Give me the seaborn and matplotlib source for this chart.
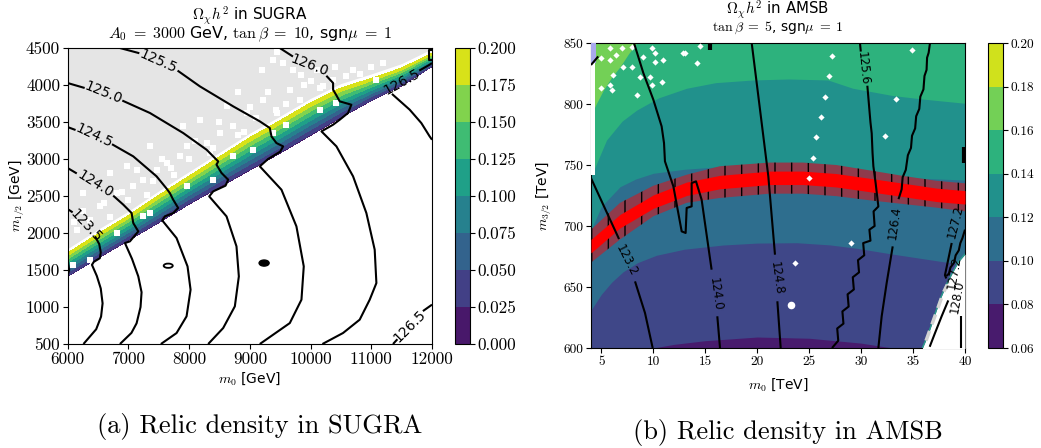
import numpy as np
import matplotlib
matplotlib.use("Agg")
import matplotlib.pyplot as plt
from matplotlib.colors import ListedColormap, BoundaryNorm, Normalize
from matplotlib.cm import ScalarMappable
from matplotlib.patches import Ellipse
import seaborn as sns

nan = np.nan

# ---------------- (a) SUGRA, values ----------------
sugra_m0 = [6000, 6500, 7000, 7500, 8000, 8500, 9000, 9500, 10000, 10500, 11000, 11500, 12000]
sugra_band_top = [1730, 1990, 2235, 2510, 2770, 3030, 3290, 3520, 3760, 3960, 4090, 4230, 4430]
sugra_band_bottom = [1414, 1660, 1900, 2140, 2390, 2620, 2850, 3080, 3320, 3560, 3790, 3990, 4250]
sugra_omega_edges = [0.02, 0.195]          # relic density at lower / upper band edge
sugra_levels = [0.0, 0.025, 0.05, 0.075, 0.1, 0.125, 0.15, 0.175, 0.2]

# higgs mass contours (nan = gap for the label)
sugra_mh_1235 = [(6000, 2324), (6082, 2279), (nan, nan), (6450, 1955), (6520, 1850), (6545, 1740),
                 (6530, 1660), (6430, 1610), (6400, 1570), (6480, 1420), (6545, 1250), (6575, 1050),
                 (6550, 870), (6470, 700), (6260, 500)]
sugra_mh_1240 = [(6000, 2878), (6150, 2805), (nan, nan), (6750, 2505), (6916, 2383), (7053, 2270),
                 (7080, 2135), (7163, 2022), (7025, 1887), (6943, 1865), (7060, 1650), (7163, 1414),
                 (7217, 1200), (7200, 1000), (7135, 780), (7050, 650), (6861, 500)]
sugra_mh_1245 = [(6000, 3432), (6130, 3392), (nan, nan), (6730, 3200), (7080, 3036), (7464, 2766),
                 (7629, 2600), (7683, 2540), (7738, 2450), (7820, 2338), (7738, 2270), (7601, 2225),
                 (7557, 2171), (7793, 1932), (7974, 1549), (8024, 1234), (7958, 874), (7793, 648),
                 (7535, 500)]
sugra_mh_1250 = [(6000, 4027), (6280, 3960), (nan, nan), (6900, 3790), (7355, 3622), (7903, 3351),
                 (8287, 3126), (8479, 2968), (8451, 2923), (8534, 2811), (8643, 2721), (8600, 2640),
                 (8397, 2563), (8331, 2495), (8616, 2225), (8780, 1820), (8819, 1414), (8753, 1009),
                 (8561, 716), (8314, 500)]
sugra_mh_1255 = [(6861, 4500), (7180, 4430), (nan, nan), (7810, 4195), (8177, 3982), (8725, 3712),
                 (9164, 3509), (9329, 3419), (9356, 3306), (9438, 3216), (9548, 3171), (9500, 3100),
                 (9300, 3000), (9164, 2901), (9521, 2585), (9767, 2090), (9888, 1549), (9850, 1099),
                 (9658, 783), (9164, 500)]
sugra_mh_1260 = [(9493, 4500), (9710, 4385), (nan, nan), (10260, 4125), (10371, 4027), (10371, 3937),
                 (10426, 3860), (10480, 3779), (10672, 3734), (10617, 3622), (10480, 3531),
                 (10371, 3464), (10179, 3374), (10426, 3171), (10700, 2766), (10919, 2270),
                 (11056, 1775), (11084, 1324), (10974, 1099), (10809, 829), (10535, 649), (10195, 500)]
sugra_mh_1265_top = [(12000, 4297), (11961, 4275), (11790, 4195), (nan, nan), (11340, 3880),
                     (11632, 3667), (11824, 3486), (11961, 3306), (12000, 3261)]
sugra_mh_1265_low = [(11358, 500), (11430, 565), (nan, nan), (11850, 945), (12000, 1032)]
sugra_mh_bits = [[(6000, 1620), (6025, 1500), (6000, 1430)],
                 [(12000, 4480), (11945, 4480), (11945, 4340), (12000, 4340)]]

sugra_lab_text = ["123.5", "124.0", "124.5", "125.0", "125.5", "126.0", "126.5", "126.5"]
sugra_lab_m0 = [6302, 6461, 6433, 6587, 7492, 9987, 11495, 11632]
sugra_lab_m12 = [2099, 2666, 3315, 3892, 4320, 4261, 4036, 738]
sugra_lab_angle = [-47, -32, -25, -22, -24, -21, 29, 45]

# white speckles in the excluded region and inside the band
sugra_gap_m0 = [9384, 9548, 9713, 9850, 10014, 10151, 10371, 10590, 10809, 9658, 9822, 9439, 9219,
                8945, 8725, 8506, 8287, 7958, 7848, 7629, 7464, 7245, 7080, 6806, 6532, 6367, 6148,
                8177, 8616, 7903, 7355, 6971, 6696, 6258, 6700, 7300, 7750, 8350, 8900, 9450, 10200,
                6100, 6250, 6600, 6900, 7000, 7150, 7400, 7550, 7700, 8000, 8100, 8400, 8500, 8800,
                9000, 9100, 9300, 9600, 9900, 10100, 10400, 10700, 11000, 11200, 9200, 9450, 8800]
sugra_gap_m12 = [4342, 4297, 4207, 4140, 4050, 3959, 4072, 4117, 4150, 3937, 3802, 3667, 3802,
                 3622, 3441, 3351, 3216, 3171, 3036, 2946, 2856, 2721, 2630, 2540, 2360, 2180, 2045,
                 3531, 3712, 3441, 3171, 2901, 2811, 2540, 2210, 2520, 2790, 3080, 3360, 3620, 3990,
                 2150, 2300, 2400, 2550, 2450, 2850, 2700, 3000, 2880, 3000, 3250, 3150, 3500, 3320,
                 3700, 3550, 3900, 3750, 4000, 4200, 4250, 4200, 4250, 4300, 4200, 4450, 3900]
sugra_hole_m0 = [7958, 8397, 8725, 9055, 9384, 9603, 10151, 10426, 7245, 7355, 6806, 6093, 6367, 11084]
sugra_hole_m12 = [2630, 2720, 3036, 3126, 3351, 3464, 3667, 3757, 2225, 2270, 2000, 1572, 1640, 4072]

# ---------------- (b) AMSB, values ----------------
amsb_levels = [0.06, 0.08, 0.10, 0.12, 0.14, 0.16, 0.18, 0.20]
amsb_b08_m0 = [4, 10, 12, 15, 20, 25, 30, 33, 40]
amsb_b08_m32 = [588, 600, 603, 606, 609, 608, 604, 600, 588]
amsb_b10_m0 = [4, 5, 6, 7.1, 8.5, 10.3, 13, 16.7, 20, 23.8, 27, 29.6, 33, 37.9, 40]
amsb_b10_m32 = [631, 644, 654, 662.5, 670, 676, 681, 684.4, 686, 686.3, 684.5, 681.7, 677, 670.7, 668]
amsb_b12_m0 = [4, 5, 6.8, 8.3, 10, 13, 16.4, 20, 24.8, 27, 29.2, 33, 36, 40]
amsb_b12_m32 = [696.7, 716, 732.2, 738.5, 743.2, 746.5, 748.6, 750, 750, 747, 743.2, 740, 739, 737.7]
amsb_b14_m0 = [4, 5.5, 7, 8.4, 10.5, 13.2, 16, 19.6, 23, 26.8, 29.2, 33, 36, 40]
amsb_b14_m32 = [740.4, 770.5, 786, 795, 805, 812.9, 817.5, 819.7, 820.5, 819.7, 812.9, 807, 804, 800.6]
amsb_b16_m0 = [4, 4.5, 5.2, 6, 6.8, 7.6, 8.4, 9]
amsb_b16_m32 = [791, 800, 811.5, 822, 830.6, 841, 850, 858]

# observed relic density band
amsb_band_m0 = [4, 6.8, 10, 13.2, 16.4, 21.2, 24.4, 27.6, 30.9, 34.1, 37.3, 40]
amsb_dark_top = [697, 719, 733, 742, 749, 752, 752, 750, 745.5, 741, 737, 735]
amsb_dark_bottom = [670, 689, 708, 719, 723, 726.5, 726.5, 724.5, 721, 718, 715, 712]
amsb_red_top = [689, 709.5, 725.5, 736, 741.5, 745, 745, 743, 739, 735, 731, 729]
amsb_red_bottom = [678, 698.5, 714.5, 725, 730.5, 734, 734, 732, 728, 724, 720, 718]

# region without a solution (lower right corner)
amsb_void_m0 = [35.9, 36.4, 37.0, 37.6, 38.2, 38.8, 39.4, 40.0]
amsb_void_m32 = [600, 610, 625, 640, 652, 662, 671, 677]

amsb_mh_1232 = [(4.0, 739.3), (6.70, 689.3), (nan, nan), (8.24, 654.6), (9.20, 628.7), (9.94, 600)]
amsb_mh_1240 = [(8.14, 850), (9.04, 825.4), (10.0, 803.6), (10.8, 781.7), (11.03, 768), (11.12, 753),
                (11.93, 732.5), (12.73, 695.6), (13.11, 694.3), (13.21, 714.8), (13.69, 716.1),
                (13.69, 735.2), (14.11, 736.6), (14.65, 721.6), (15.61, 664.2), (nan, nan),
                (16.16, 626), (16.42, 600)]
amsb_mh_1248 = [(19.47, 850), (20.27, 795.4), (21.07, 740.7), (21.71, 676.5), (nan, nan),
                (21.94, 638.3), (22.26, 600)]
amsb_mh_1256 = [(29.89, 850), (29.97, 843), (nan, nan), (30.6, 815), (30.75, 800), (30.9, 785),
                (31.02, 776), (31.1, 760), (31.18, 749), (31.4, 735), (31.66, 716), (31.2, 712),
                (31.3, 700), (30.8, 697), (30.9, 688), (30.2, 686), (30.3, 676), (29.7, 672),
                (29.8, 662), (29.2, 658), (29.3, 648), (28.7, 644), (28.8, 634), (28.2, 630),
                (28.3, 620), (27.7, 616), (27.8, 606), (27.2, 600)]
amsb_mh_1264 = [(36.63, 850), (36.5, 842), (36.35, 838), (36.3, 828), (36.1, 823), (36.0, 812),
                (35.7, 806), (35.6, 796), (35.3, 790), (35.2, 780), (34.9, 774), (34.8, 764),
                (34.5, 758), (34.3, 746), (34.0, 740), (33.9, 730), (33.6, 722), (nan, nan),
                (33.04, 683.3), (32.46, 653.3), (31.98, 626), (31.66, 600)]
amsb_mh_1272 = [(38.72, 686.1), (38.07, 659.7), (38.2, 657)]
amsb_mh_bits = [[(40, 697), (39.75, 690), (39.55, 686), (39.4, 680), (39.1, 676), (38.95, 670),
                 (38.6, 666), (38.45, 661), (38.2, 659)],
                [(36.6, 601), (37.1, 612), (37.75, 626), (38.39, 639)],
                [(39.6, 600), (39.6, 626)],
                [(4.0, 832), (4.7, 839)]]
amsb_mh_thick = [[(39.9, 752), (39.9, 765)], [(15.5, 850), (15.5, 844)]]
amsb_edge_dash = [(36.25, 606), (36.8, 619), (37.4, 633), (37.9, 645), (38.3, 652)]

amsb_lab_text = ["123.2", "124.0", "124.8", "125.6", "126.4", "127.2", "127.2", "128.0"]
amsb_lab_m0 = [7.37, 15.94, 21.81, 30.21, 33.26, 39.1, 39.0, 39.25]
amsb_lab_m32 = [671.9, 644.5, 657.4, 829.5, 702.5, 703.8, 662, 642]
amsb_lab_angle = [-63, -82, -82, -84, 82, 76, 80, 80]

amsb_dot_m0 = [5.83, 6.95, 7.92, 9.84, 4.95, 6.4, 10.16, 5.83, 7.11, 7.92, 10.16, 10.96, 9.03, 6.15,
               8.72, 9.68, 10.8, 5.83, 4.95, 5.99, 8.4, 9.84, 13.05, 14.17, 12.9, 14.5, 27.2, 26.9,
               26.5, 26.1, 25.7, 25.4, 25.0, 29.0, 23.6, 34.9, 33.4, 32.3]
amsb_dot_m32 = [845.6, 845.6, 847, 845.6, 837.5, 840.2, 841.6, 836, 830.6, 830.6, 834.7, 836, 838.8,
                823.8, 822.4, 822.4, 818.3, 815.6, 812.9, 811.5, 807.4, 815.6, 841.6, 833.4, 841.6,
                847.8, 839.6, 823, 806, 789, 773, 756, 739, 686, 670, 844, 804, 774]
amsb_big_dot = [(23.3, 635)]

# ---------------- style ----------------
sns.set_style("ticks", {"axes.edgecolor": "black", "xtick.color": "black", "ytick.color": "black",
                        "text.color": "black", "axes.labelcolor": "black"})
plt.rcParams["font.family"] = ["DejaVu Sans"]
plt.rcParams["mathtext.fontset"] = "cm"
plt.rcParams["axes.linewidth"] = 0.8
plt.rcParams["hatch.linewidth"] = 1.0
viridis = sns.color_palette("viridis", as_cmap=True)

# the two sub-figures were scaled differently in the document
TICK_A, TICK_B = 12.3, 9.6
LAB_A, LAB_B = 10, 10
CL_A, CL_B = 10, 8.5


def draw_line(ax, pts, lw=1.5):
    arr = np.array(pts, dtype=float)
    ax.plot(arr[:, 0], arr[:, 1], color="black", lw=lw, solid_capstyle="butt", zorder=6)


def serif_ticks(ax, xt, yt, fs):
    ax.set_xticks(xt)
    ax.set_yticks(yt)
    ax.set_xticklabels(["%d" % v for v in xt], fontfamily="cmr10", fontsize=fs)
    ax.set_yticklabels(["%d" % v for v in yt], fontfamily="cmr10", fontsize=fs)
    ax.tick_params(direction="out", length=3.5, width=0.8, pad=2)


fig = plt.figure(figsize=(10.41, 4.48), dpi=100)
ax1 = fig.add_axes([0.0650, 0.2321, 0.3500, 0.6607])
cax1 = fig.add_axes([0.4371, 0.2321, 0.0144, 0.6607])
ax2 = fig.add_axes([0.5677, 0.2232, 0.3593, 0.6808])
cax2 = fig.add_axes([0.9491, 0.2232, 0.0144, 0.6808])

# ---------------- panel (a) ----------------
top_arr = np.array(sugra_band_top, dtype=float)
ax1.fill_between(sugra_m0, top_arr + 60, 4600, color="#e5e5e5", lw=0, zorder=1)
X = np.vstack([sugra_m0, sugra_m0])
Y = np.vstack([sugra_band_bottom, sugra_band_top])
Z = np.vstack([np.full(len(sugra_m0), sugra_omega_edges[0]), np.full(len(sugra_m0), sugra_omega_edges[1])])
cf = ax1.contourf(X, Y, Z, levels=sugra_levels, cmap=viridis, vmin=0.0, vmax=0.2, zorder=2)
ax1.scatter(sugra_gap_m0, sugra_gap_m12, marker="s", s=24, color="white", lw=0, zorder=3)
ax1.scatter(sugra_hole_m0, sugra_hole_m12, marker="s", s=16, color="white", lw=0, zorder=3)

for pts in [sugra_mh_1235, sugra_mh_1240, sugra_mh_1245, sugra_mh_1250, sugra_mh_1255,
            sugra_mh_1260, sugra_mh_1265_top, sugra_mh_1265_low] + sugra_mh_bits:
    draw_line(ax1, pts)
ax1.add_patch(Ellipse((7656, 1558), 150, 58, fill=False, ec="black", lw=1.3, zorder=6))
ax1.add_patch(Ellipse((9235, 1594), 165, 82, fc="black", ec="black", zorder=6))
for t, x, y, a in zip(sugra_lab_text, sugra_lab_m0, sugra_lab_m12, sugra_lab_angle):
    ax1.text(x, y, t, rotation=a, ha="center", va="center", fontsize=CL_A,
             rotation_mode="anchor", zorder=7)

ax1.set_xlim(6000, 12000)
ax1.set_ylim(500, 4500)
serif_ticks(ax1, list(range(6000, 12001, 1000)), list(range(500, 4501, 500)), TICK_A)
ax1.set_xlabel(r"$m_0$ [GeV]", fontsize=LAB_A)
ax1.set_ylabel(r"$m_{1/2}$ [GeV]", fontsize=LAB_A)
ax1.xaxis.set_label_coords(0.5, -0.09)
ax1.yaxis.set_label_coords(-0.112, 0.5)

cb1 = fig.colorbar(cf, cax=cax1, ticks=sugra_levels)
cb1.ax.set_yticklabels(["%.3f" % v for v in sugra_levels], fontfamily="cmr10", fontsize=TICK_A)
cb1.ax.tick_params(direction="out", length=3.5, width=0.8, pad=2)
cb1.outline.set_linewidth(0.8)

fig.text(0.2400, 0.9650, r"$\Omega_\chi h^2$ in SUGRA", ha="center", va="center", fontsize=11)
fig.text(0.2400, 0.9230, r"$A_0 \;=\; 3000$ GeV, $\tan\beta \;=\; 10$, sgn$\mu \;=\; 1$",
         ha="center", va="center", fontsize=11.5)

# ---------------- panel (b) ----------------
amsb_norm = Normalize(vmin=amsb_levels[0], vmax=amsb_levels[-1])
amsb_colors = [viridis(amsb_norm(0.5 * (lo + hi))) for lo, hi in zip(amsb_levels[:-1], amsb_levels[1:])]

ax2.fill_between([4, 40], 580, 870, color=amsb_colors[0], lw=0, zorder=1)
bounds = [(amsb_b08_m0, amsb_b08_m32), (amsb_b10_m0, amsb_b10_m32), (amsb_b12_m0, amsb_b12_m32),
          (amsb_b14_m0, amsb_b14_m32), (amsb_b16_m0, amsb_b16_m32)]
for i, (bx, by) in enumerate(bounds):
    ax2.fill_between(bx, by, 870, color=amsb_colors[i + 1], lw=0, zorder=1)

ax2.fill_between(amsb_band_m0, amsb_dark_bottom, amsb_dark_top, facecolor="#8f3b4c",
                 edgecolor="black", hatch="|", lw=0, zorder=2)
ax2.fill_between(amsb_band_m0, amsb_red_bottom, amsb_red_top, color="#ff0000", lw=0, zorder=3)

ax2.fill_between(amsb_void_m0, 580, amsb_void_m32, color="white", lw=0, zorder=4)
ax2.plot(amsb_void_m0, amsb_void_m32, color="#2a9d8a", lw=1.0, zorder=4)
dash = np.array(amsb_edge_dash)
ax2.plot(dash[:, 0], dash[:, 1], color="#d2d2d2", lw=2.5, dashes=(3, 2), zorder=4)
ax2.fill_between([4.0, 4.35], 742, 834, color="white", lw=0, zorder=4)
ax2.fill_between([4.0, 4.5], 834, 850, color="#a9a9ee", lw=0, zorder=4)

ax2.scatter(amsb_dot_m0, amsb_dot_m32, marker="D", s=10, color="white", lw=0, zorder=5)
big = np.array(amsb_big_dot)
ax2.scatter(big[:, 0], big[:, 1], marker="o", s=30, color="white", lw=0, zorder=5)

for pts in [amsb_mh_1232, amsb_mh_1240, amsb_mh_1248, amsb_mh_1256, amsb_mh_1264,
            amsb_mh_1272] + amsb_mh_bits:
    draw_line(ax2, pts)
for pts in amsb_mh_thick:
    draw_line(ax2, pts, lw=3)
for t, x, y, a in zip(amsb_lab_text, amsb_lab_m0, amsb_lab_m32, amsb_lab_angle):
    ax2.text(x, y, t, rotation=a, ha="center", va="center", fontsize=CL_B,
             rotation_mode="anchor", zorder=7)

ax2.set_xlim(4, 40)
ax2.set_ylim(600, 850)
serif_ticks(ax2, list(range(5, 41, 5)), list(range(600, 851, 50)), TICK_B)
ax2.set_xlabel(r"$m_0$ [TeV]", fontsize=LAB_B)
ax2.set_ylabel(r"$m_{3/2}$ [TeV]", fontsize=LAB_B)
ax2.xaxis.set_label_coords(0.5, -0.092)
ax2.yaxis.set_label_coords(-0.10, 0.5)

sm = ScalarMappable(norm=BoundaryNorm(amsb_levels, len(amsb_colors)), cmap=ListedColormap(amsb_colors))
cb2 = fig.colorbar(sm, cax=cax2, ticks=amsb_levels)
cb2.ax.set_yticklabels(["%.2f" % v for v in amsb_levels], fontfamily="cmr10", fontsize=TICK_B)
cb2.ax.tick_params(direction="out", length=3.5, width=0.8, pad=2)
cb2.outline.set_linewidth(0.8)

fig.text(0.7474, 0.9777, r"$\Omega_\chi h^2$ in AMSB", ha="center", va="center", fontsize=10.8)
fig.text(0.7474, 0.9375, r"$\tan\beta \;=\; 5$, sgn$\mu \;=\; 1$", ha="center", va="center", fontsize=10)

# ---------------- captions ----------------
fig.text(0.2498, 0.0490, "(a) Relic density in SUGRA", ha="center", va="center",
         fontfamily="cmr10", fontsize=19)
fig.text(0.7570, 0.0335, "(b) Relic density in AMSB", ha="center", va="center",
         fontfamily="cmr10", fontsize=19)

fig.savefig("out.png", dpi=100)
